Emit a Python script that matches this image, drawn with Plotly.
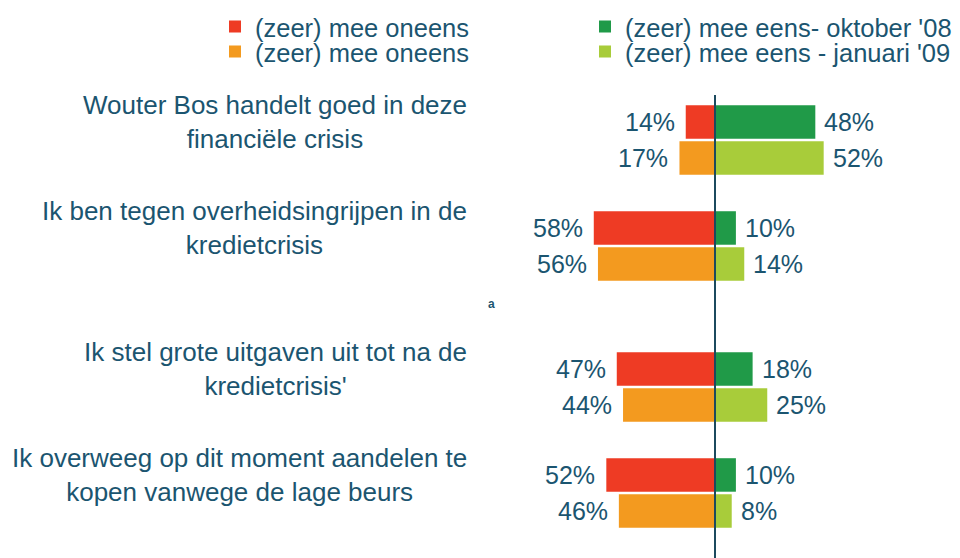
import plotly.graph_objects as go

# ---- data ----
questions = [
    "Wouter Bos handelt goed in deze<br>financiële crisis",
    "Ik ben tegen overheidsingrijpen in de<br>kredietcrisis",
    "Ik stel grote uitgaven uit tot na de<br>kredietcrisis'",
    "Ik overweeg op dit moment aandelen te<br>kopen vanwege de lage beurs",
]
disagree_oct = [14, 58, 47, 52]
agree_oct = [48, 10, 18, 10]
disagree_jan = [17, 56, 44, 46]
agree_jan = [52, 14, 25, 8]

series_names = [
    "(zeer) mee oneens",
    "(zeer) mee oneens",
    "(zeer) mee eens- oktober '08",
    "(zeer) mee eens - januari '09",
]

# ---- layout / style ----
ROW_POS = [0, 1, 2.33, 3.33]
OFF = 0.17
BAR_W = 0.316
RED, ORANGE, GREEN, LGREEN = "#EE3B24", "#F39A1F", "#209A48", "#A8CC3A"
TXT = "#1B5570"
AXIS = "#1C4A5E"
FONT = "Liberation Sans, Arial, sans-serif"
W, H = 960, 558
PX_PER_UNIT = 2.09
ZERO_PX = 715
XR = [-ZERO_PX / PX_PER_UNIT, (W - ZERO_PX) / PX_PER_UNIT]
YU = 106.0
Y0_PX = 140
YR = [(H - Y0_PX) / YU, -Y0_PX / YU]

y_oct = [p - OFF for p in ROW_POS]
y_jan = [p + OFF for p in ROW_POS]

fig = go.Figure()
traces = [
    (y_oct, [-v for v in disagree_oct], RED, "legend"),
    (y_jan, [-v for v in disagree_jan], ORANGE, "legend2"),
    (y_oct, agree_oct, GREEN, "legend3"),
    (y_jan, agree_jan, LGREEN, "legend4"),
]
for (yy, xx, col, lg), nm in zip(traces, series_names):
    fig.add_trace(go.Bar(y=yy, x=xx, orientation="h", width=BAR_W,
                         marker=dict(color=col, line=dict(width=0)),
                         name=nm, legend=lg, hoverinfo="skip"))

ann = []
for i in range(len(questions)):
    ann.append(dict(x=-disagree_oct[i], y=y_oct[i], text=f"{disagree_oct[i]}%",
                    xanchor="right", xshift=-9, showarrow=False))
    ann.append(dict(x=-disagree_jan[i], y=y_jan[i], text=f"{disagree_jan[i]}%",
                    xanchor="right", xshift=-9, showarrow=False))
    ann.append(dict(x=agree_oct[i], y=y_oct[i], text=f"{agree_oct[i]}%",
                    xanchor="left", xshift=7, showarrow=False))
    ann.append(dict(x=agree_jan[i], y=y_jan[i], text=f"{agree_jan[i]}%",
                    xanchor="left", xshift=7, showarrow=False))
for a in ann:
    a.update(yanchor="middle", font=dict(size=25, color=TXT, family=FONT))

for i, q in enumerate(questions):
    ann.append(dict(x=469 / W, xref="paper", y=y_oct[i], text=q, xanchor="right",
                    yanchor="middle", align="center", showarrow=False,
                    font=dict(size=26, color=TXT, family=FONT)))

ann.append(dict(x=492 / W, xref="paper", y=1 - 304 / H, yref="paper", text="<b>a</b>",
                showarrow=False, font=dict(size=12, color=TXT, family=FONT)))


def leg(xpx, ypx):
    return dict(x=xpx / W, y=1 - ypx / H, xanchor="left", yanchor="middle",
                bgcolor="rgba(0,0,0,0)", font=dict(size=25.5, color=TXT, family=FONT))


fig.update_layout(
    width=W, height=H,
    margin=dict(l=0, r=0, t=0, b=0),
    paper_bgcolor="white", plot_bgcolor="white",
    barmode="overlay",
    showlegend=True,
    xaxis=dict(range=XR, visible=False, fixedrange=True),
    yaxis=dict(range=YR, visible=False, fixedrange=True),
    annotations=ann,
    shapes=[dict(type="line", xref="x", yref="y", x0=0, x1=0,
                 y0=(95 - Y0_PX) / YU, y1=YR[0],
                 line=dict(color=AXIS, width=2))],
    legend=leg(215, 27),
    legend2=leg(215, 52),
    legend3=leg(585, 27),
    legend4=leg(585, 52),
)

fig.write_html("out.html")
